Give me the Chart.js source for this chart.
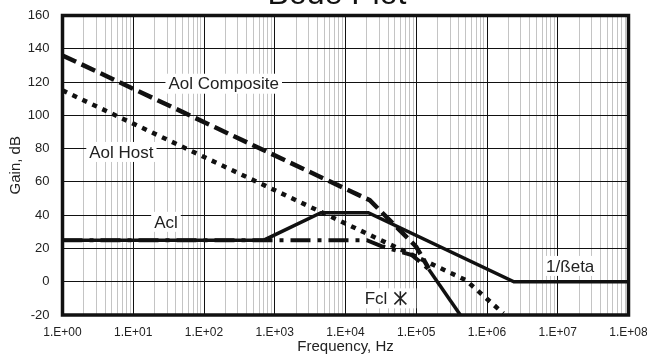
<!DOCTYPE html>
<html>
<head>
<meta charset="UTF-8">
<title>Bode Plot</title>
<style type="text/css">
body { margin:0; background:#fff; }
#wrap { width:647px; height:358px; }
</style>
</head>
<body>
<div id="wrap"><canvas id="bodeChart" width="647" height="358"></canvas></div>

<script src="https://cdn.jsdelivr.net/npm/chart.js@4.4.0/dist/chart.umd.min.js"></script>
<script>
// 축 눈금
var decades = [1, 10, 100, 1e3, 1e4, 1e5, 1e6, 1e7, 1e8];
var xTickLabels = ['1.E+00', '1.E+01', '1.E+02', '1.E+03', '1.E+04', '1.E+05', '1.E+06', '1.E+07', '1.E+08'];
var yTicks = [-20, 0, 20, 40, 60, 80, 100, 120, 140, 160];

// Aol Composite (dashed)
var aolCompFreq = [1, 2.2e4, 1e5, 1.5e5];
var aolCompGain = [136, 49, 21, 8];
// Aol Host (dotted)
var aolHostFreq = [1, 5e5, 1.7e6];
var aolHostGain = [115, 1, -19];
// 1/Beta (solid)
var betaFreq = [1, 700, 4.5e3, 2.1e4, 2.4e6, 1e8];
var betaGain = [25, 25, 41.5, 41.5, 0, 0];
// Acl (dash-dot, solid tail)
var aclFreq = [1, 2e4, 3.2e4, 8.7e4, 1.5e5, 4.2e5];
var aclGain = [25, 25, 21.4, 16, 7.5, -20];

// 라벨
var noteText = ['Aol Composite', 'Aol Host', 'Acl', '1/ßeta', 'Fcl'];
var noteFreq = [190, 6.8, 29, 1.5e7, 2.7e4];
var noteGain = [119, 78, 36, 9.5, -10];

function pts(xs, ys) {
	return xs.map(function(x, i){ return {x: x, y: ys[i]}; });
}

var fontName = '"Liberation Sans", Arial, sans-serif';

// 로그 눈금 (1..9 x 10^n)
var allTicks = [];
decades.forEach(function(d, i){
	var last = (i == decades.length - 1) ? 1 : 9;
	for (var m = 1; m <= last; m++) allTicks.push(m * d);
});

var boxPlugin = {
	id: 'boxPlugin',
	afterDatasetsDraw: function(chart) {
		var ctx = chart.ctx;
		var xs = chart.scales.x, ys = chart.scales.y;
		ctx.save();
		// labels with white box
		ctx.font = '17px ' + fontName;
		ctx.textAlign = 'center';
		ctx.textBaseline = 'middle';
		for (var i = 0; i < noteText.length; i++) {
			var px = xs.getPixelForValue(noteFreq[i]);
			var py = ys.getPixelForValue(noteGain[i]);
			var w = ctx.measureText(noteText[i]).width;
			var extra = (noteText[i] == 'Fcl') ? 26 : 0;
			ctx.fillStyle = '#fff';
			ctx.fillRect(px - w / 2 - 3, py - 10, w + 6 + extra, 20);
			ctx.fillStyle = '#222';
			ctx.fillText(noteText[i], px, py + 1);
			if (extra) {
				// Fcl marker
				var cx = px + w / 2 + 13, cy = py;
				ctx.strokeStyle = '#222';
				ctx.lineWidth = 1.5;
				ctx.beginPath();
				ctx.moveTo(cx, cy - 7); ctx.lineTo(cx, cy + 7);
				ctx.moveTo(cx - 6, cy - 6); ctx.lineTo(cx + 6, cy + 6);
				ctx.moveTo(cx + 6, cy - 6); ctx.lineTo(cx - 6, cy + 6);
				ctx.stroke();
			}
		}
		// frame
		var a = chart.chartArea;
		ctx.strokeStyle = '#111';
		ctx.lineWidth = 3.5;
		ctx.strokeRect(a.left, a.top, a.right - a.left, a.bottom - a.top);
		// title (cut off at top)
		ctx.fillStyle = '#111';
		ctx.font = '32px ' + fontName;
		ctx.textAlign = 'center';
		ctx.textBaseline = 'alphabetic';
		ctx.fillText('Bode Plot', 337, 4);
		ctx.restore();
	}
};

var chart = new Chart(document.getElementById('bodeChart'), {
	type: 'line',
	data: {
		datasets: [{
			label: '1/Beta',
			data: pts(betaFreq, betaGain),
			borderColor: '#111',
			borderWidth: 3.5,
			order: 0
		}, {
			label: 'Acl',
			data: pts(aclFreq, aclGain),
			borderColor: '#111',
			borderWidth: 4,
			borderDash: [20, 7, 4, 7],
			segment: {
				borderDash: function(c) { return c.p0.parsed.x >= 1.4e5 ? [] : [20, 7, 4, 7]; },
				borderWidth: function(c) { return c.p0.parsed.x >= 1.4e5 ? 3.5 : 4; }
			},
			order: 1
		}, {
			label: 'Aol Composite',
			data: pts(aolCompFreq, aolCompGain),
			borderColor: '#111',
			borderWidth: 4.5,
			borderDash: [15, 6],
			order: 2
		}, {
			label: 'Aol Host',
			data: pts(aolHostFreq, aolHostGain),
			borderColor: '#111',
			borderWidth: 4.5,
			borderDash: [5, 6],
			order: 3
		}]
	},
	options: {
		responsive: false,
		animation: false,
		layout: { padding: { top: 15.5, right: 18.5, left: 0.5, bottom: 0 } },
		elements: { point: { radius: 0 }, line: { tension: 0 } },
		plugins: { legend: { display: false }, tooltip: { enabled: false } },
		scales: {
			x: {
				type: 'logarithmic',
				min: 1,
				max: 1e8,
				afterBuildTicks: function(scale) {
					scale.ticks = allTicks.map(function(v){ return {value: v}; });
				},
				afterFit: function(scale) {
					scale.height = 43;
					scale.paddingLeft = 0;
					scale.paddingRight = 0;
				},
				ticks: {
					autoSkip: false,
					maxRotation: 0,
					padding: 10,
					color: '#222',
					font: { family: fontName, size: 12 },
					callback: function(value) {
						var i = decades.indexOf(value);
						return i >= 0 ? xTickLabels[i] : '';
					}
				},
				grid: {
					drawTicks: false,
					lineWidth: 1,
					color: function(c) {
						var v = c.tick ? c.tick.value : 1;
						return decades.indexOf(v) >= 0 ? '#111' : '#c4c4c4';
					}
				},
				border: { display: false },
				title: {
					display: true,
					text: 'Frequency, Hz',
					color: '#222',
					font: { family: fontName, size: 15 },
					padding: { top: 0, bottom: 2 }
				}
			},
			y: {
				min: -20,
				max: 160,
				afterBuildTicks: function(scale) {
					scale.ticks = yTicks.map(function(v){ return {value: v}; });
				},
				afterFit: function(scale) {
					scale.width = 62;
					scale.paddingTop = 0;
					scale.paddingBottom = 0;
				},
				ticks: {
					padding: 13,
					color: '#222',
					font: { family: fontName, size: 13 }
				},
				grid: { drawTicks: false, color: '#111', lineWidth: 1 },
				border: { display: false },
				title: {
					display: true,
					text: 'Gain, dB',
					color: '#222',
					font: { family: fontName, size: 15 },
					padding: { top: 6, bottom: 0 }
				}
			}
		}
	},
	plugins: [boxPlugin]
});
</script>
</body>
</html>
